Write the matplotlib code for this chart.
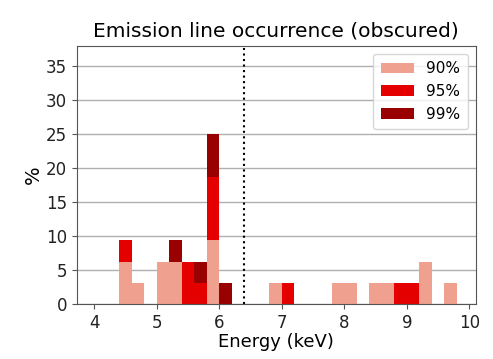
import matplotlib
matplotlib.use('Agg')
import matplotlib.pyplot as plt
import numpy as np

# histogram bins (keV), width 0.2
bin_left = [4.4, 4.6, 5.0, 5.2, 5.4, 5.6, 5.8, 6.0,
            6.8, 7.0, 7.8, 8.0, 8.4, 8.6, 8.8, 9.0, 9.2, 9.6]
bin_width = 0.2

# occurrence in percent of sources, per confidence level
pct_90 = [6.25, 3.125, 6.25, 6.25, 0, 0, 9.375, 0,
          3.125, 0, 3.125, 3.125, 3.125, 3.125, 0, 0, 6.25, 3.125]
pct_95 = [3.125, 0, 0, 0, 6.25, 3.125, 9.375, 0,
          0, 3.125, 0, 0, 0, 0, 3.125, 3.125, 0, 0]
pct_99 = [0, 0, 0, 3.125, 0, 3.125, 6.25, 3.125,
          0, 0, 0, 0, 0, 0, 0, 0, 0, 0]

fe_line = 6.4

colors = {'90%': '#f0a08e', '95%': '#e50000', '99%': '#990000'}

fig = plt.figure(figsize=(4.93, 3.59), dpi=100)
ax = fig.add_axes([0.156, 0.153, 0.809, 0.719])

x = np.array(bin_left)
b90 = np.array(pct_90)
b95 = np.array(pct_95)
b99 = np.array(pct_99)

ax.bar(x, b90, width=bin_width, align='edge', color=colors['90%'], label='90%', zorder=2)
ax.bar(x, b95, width=bin_width, align='edge', bottom=b90, color=colors['95%'], label='95%', zorder=2)
ax.bar(x, b99, width=bin_width, align='edge', bottom=b90 + b95, color=colors['99%'], label='99%', zorder=2)

ax.axvline(fe_line, color='black', linestyle=':', linewidth=1.5, zorder=3)

ax.set_xlim(3.72, 10.1)
ax.set_ylim(0, 38)
ax.set_yticks(np.arange(0, 36, 5))
ax.set_xticks(np.arange(4, 11, 1))
ax.yaxis.grid(True, color='#b0b0b0', linewidth=1, zorder=0)
ax.set_axisbelow(True)

for sp in ax.spines.values():
    sp.set_color('#555555')
ax.tick_params(labelsize=12, color='#555555', labelcolor='#222222')

ax.set_xlabel('Energy (keV)', fontsize=13, labelpad=1)
ax.set_ylabel('%', fontsize=14, labelpad=2)
ax.set_title('Emission line occurrence (obscured)', fontsize=14.5, pad=7)
ax.legend(loc='upper right', fontsize=11, handlelength=2.2, borderpad=0.5)

fig.savefig('out.png', dpi=100)
